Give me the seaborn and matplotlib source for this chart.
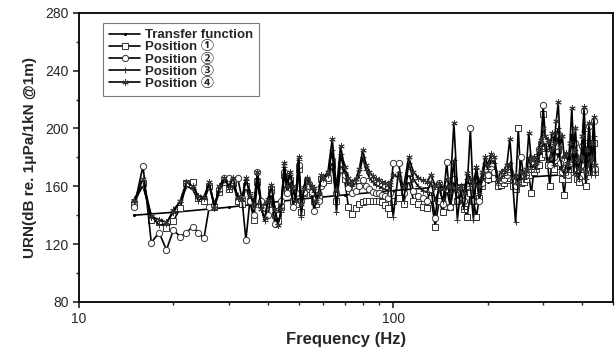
import numpy as np
import pandas as pd
import seaborn as sns
import matplotlib
matplotlib.use("Agg")
import matplotlib.pyplot as plt
from matplotlib.ticker import FixedLocator, NullFormatter, MultipleLocator

# frequency grid (Hz) of the measured positions
freq = np.concatenate([np.arange(15, 61, 1), np.arange(62, 101, 2),
                       np.arange(104, 201, 4), np.arange(205, 441, 5)])

# transfer function (smooth)
tf_freq = [15, 20, 30, 50, 70, 100, 150, 200, 275, 350, 440]
tf_urn = [140, 142, 145.5, 151, 154, 157, 160, 163, 166.5, 168, 170]

pos1 = [148, 162, 137, 135, 131, 136, 145, 162, 163, 152, 150, 160, 146, 156, 163, 158,
        162, 150, 148, 160, 150, 137, 163, 148, 142, 148, 158, 140, 136, 146, 168, 158,
        164, 150, 148, 172, 142, 155, 162, 158, 155, 150, 148, 152, 165, 163,
        164, 175, 150, 172, 165, 146, 141, 145, 148, 149, 150, 150, 150, 150, 150, 149,
        147, 145, 141, 150,
        152, 148, 165, 150, 148, 146, 145, 152, 132, 150, 142, 158, 146, 160, 150, 152,
        144, 139, 155, 150, 139, 152, 160, 168, 165,
        168, 166, 160, 161, 162, 164, 166, 160, 158, 200, 162, 163, 165, 168, 155, 170,
        172, 175, 180, 210, 182, 175, 160, 180, 172, 178, 185, 170, 165, 154, 168, 165,
        170, 178, 172, 180, 165, 163, 168, 175, 190, 160, 170, 185, 170, 175, 190, 170]

pos2 = [146, 174, 121, 128, 116, 130, 125, 128, 132, 128, 124, 146, 147, 158, 166, 166,
        164, 166, 152, 123, 150, 140, 170, 150, 145, 140, 156, 134, 140, 150, 170, 155,
        165, 146, 155, 175, 150, 156, 164, 160, 156, 143, 152, 150, 160, 162,
        166, 178, 155, 176, 168, 159, 155, 157, 160, 164, 160, 158, 156, 155, 155, 154,
        153, 152, 155, 176,
        176, 155, 170, 157, 153, 152, 150, 158, 138, 162, 148, 177, 146, 165, 150, 155,
        150, 160, 200, 150, 165, 150, 162, 172, 168,
        172, 170, 163, 164, 165, 168, 170, 164, 160, 163, 180, 167, 168, 172, 172, 176,
        180, 186, 190, 216, 192, 182, 175, 190, 180, 188, 196, 176, 170, 172, 175, 168,
        176, 185, 178, 190, 172, 166, 175, 188, 212, 172, 180, 202, 176, 184, 205, 172]

pos3 = [151, 160, 140, 133, 134, 144, 149, 160, 158, 150, 153, 161, 148, 157, 164, 161,
        160, 154, 150, 164, 156, 146, 166, 146, 136, 152, 160, 145, 134, 142, 173, 162,
        168, 158, 152, 178, 139, 160, 166, 163, 159, 156, 153, 155, 167, 165,
        168, 185, 142, 182, 170, 163, 160, 162, 168, 180, 171, 166, 163, 161, 160, 159,
        158, 157, 160, 139,
        170, 150, 176, 165, 160, 157, 156, 163, 150, 158, 150, 160, 155, 178, 137, 158,
        144, 165, 160, 137, 172, 155, 165, 176, 172,
        178, 176, 162, 166, 168, 170, 176, 162, 135, 164, 166, 165, 168, 180, 172, 175,
        172, 178, 186, 190, 188, 178, 180, 186, 175, 196, 200, 180, 172, 168, 175, 170,
        182, 196, 170, 185, 168, 165, 172, 180, 198, 165, 175, 190, 168, 178, 195, 168]

pos4 = [150, 165, 139, 137, 135, 142, 150, 163, 160, 153, 152, 163, 145, 160, 166, 159,
        166, 152, 151, 166, 154, 148, 170, 144, 138, 150, 161, 144, 133, 144, 176, 160,
        170, 160, 150, 180, 148, 158, 166, 162, 160, 159, 150, 155, 168, 166,
        170, 193, 158, 188, 173, 166, 163, 165, 172, 185, 175, 170, 167, 165, 164, 163,
        162, 161, 163, 168,
        166, 160, 180, 170, 166, 164, 163, 168, 160, 162, 158, 165, 160, 204, 158, 160,
        155, 169, 165, 162, 173, 160, 170, 180, 175,
        182, 180, 165, 170, 171, 175, 193, 166, 168, 162, 170, 169, 172, 197, 178, 180,
        176, 185, 192, 200, 195, 192, 185, 197, 190, 205, 218, 187, 195, 180, 183, 176,
        190, 214, 185, 200, 178, 172, 180, 195, 215, 170, 185, 204, 180, 190, 208, 175]

labels = ["Transfer function", "Position \u2460", "Position \u2461",
          "Position \u2462", "Position \u2463"]

sns.set_style("ticks")
plt.rcParams["font.family"] = ["Liberation Sans", "Noto Sans CJK SC", "DejaVu Sans"]

fig, ax = plt.subplots(figsize=(6.16, 3.47), dpi=100)
fig.subplots_adjust(left=0.128, right=0.995, top=0.963, bottom=0.13)

common = dict(ax=ax, color="black", linewidth=1.2, markerfacecolor="white",
              markeredgecolor="#333333", markeredgewidth=0.7)

sns.lineplot(x=tf_freq, y=tf_urn, marker=".", markersize=3, label=labels[0],
             **{**common, "markerfacecolor": "black", "markeredgecolor": "black"})
sns.lineplot(x=freq, y=pos1, marker="s", markersize=4, label=labels[1], **common)
sns.lineplot(x=freq, y=pos2, marker="o", markersize=4.5, label=labels[2], **common)
sns.lineplot(x=freq, y=pos3, marker="+", markersize=4.5, label=labels[3], **common)
sns.lineplot(x=freq, y=pos4, marker=(6, 2, 0), markersize=4.5, label=labels[4], **common)

ax.set_xscale("log")
ax.set_xlim(10, 500)
ax.set_ylim(80, 280)
ax.xaxis.set_major_locator(FixedLocator([10, 100]))
ax.xaxis.set_minor_locator(FixedLocator([20, 30, 40, 50, 60, 70, 80, 90,
                                         200, 300, 400, 500]))
ax.xaxis.set_minor_formatter(NullFormatter())
ax.set_xticklabels(["10", "100"])
ax.yaxis.set_major_locator(MultipleLocator(40))
ax.yaxis.set_minor_locator(MultipleLocator(20))

for side in ["top", "right", "bottom", "left"]:
    ax.spines[side].set_linewidth(1.3)
    ax.spines[side].set_color("black")
ax.tick_params(which="major", direction="out", length=4, width=1.2, labelsize=10)
ax.tick_params(which="minor", direction="out", length=2.5, width=1.0)

ax.set_xlabel("Frequency (Hz)", fontsize=12, fontweight="bold", labelpad=4)
ax.set_ylabel("URN(dB re. 1\u03bcPa/1kN @1m)", fontsize=11, fontweight="bold", labelpad=6)

leg = ax.legend(loc="upper left", bbox_to_anchor=(0.045, 0.965), borderaxespad=0,
                frameon=True, fancybox=False, edgecolor="#555555", handlelength=2.4,
                labelspacing=0.0, prop={"weight": "bold", "size": 9.5},
                borderpad=0.45, handletextpad=0.35)
leg.get_frame().set_linewidth(0.8)

fig.savefig("out.png", dpi=100)
